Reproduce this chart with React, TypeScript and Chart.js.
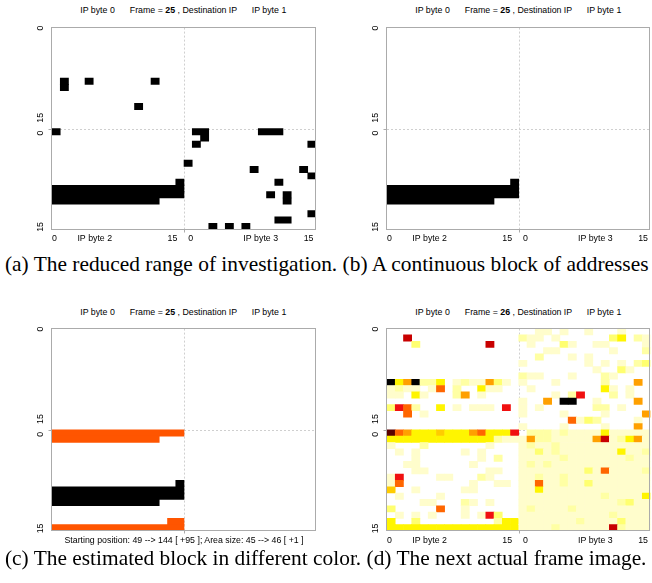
import React, { useEffect, useRef } from "react";
import { Chart, registerables } from "chart.js";
Chart.register(...registerables);

// ---------- DATA ----------
// runs: [row, firstCol, lastCol] inside a 16x16 quadrant (IP byte 0..3)
type Run = [number, number, number];

const aByte0: Run[] = [[8, 1, 1], [9, 1, 1], [8, 4, 4], [8, 12, 12], [12, 10, 10]];
const aByte1: Run[] = [];
const aByte2: Run[] = [[0, 0, 0], [8, 15, 15], [9, 0, 15], [10, 0, 15], [11, 0, 12]];
const aByte3: Run[] = [
  [0, 1, 2], [1, 2, 2], [0, 9, 11], [2, 1, 1], [2, 15, 15], [5, 0, 0], [6, 8, 8], [6, 14, 14],
  [7, 15, 15], [8, 11, 11], [10, 10, 10], [10, 12, 12], [11, 12, 12], [13, 15, 15], [14, 11, 12],
  [15, 3, 3], [15, 5, 5], [15, 7, 7],
];
const blockRuns: Run[] = [[8, 15, 15], [9, 0, 15], [10, 0, 15], [11, 0, 12]];
const estimateRuns: Run[] = [[0, 0, 15], [1, 0, 12], [14, 14, 15], [15, 0, 15]];

// next frame image, intensity level per cell (0 = none ... b = max)
const dByte0 = [
  "0000000000000000",
  "0090000000000000",
  "0003000000009000",
  "0000000000000000",
  "0000000000000000",
  "0000000000000000",
  "0000000000000000",
  "0000000000000000",
  "b46b224012116310",
  "1211017020041100",
  "1104100026010000",
  "0000000000000000",
  "3872004010111080",
  "0070100000000000",
  "0000000000000000",
  "0000000000000000",
];
const dByte1 = [
  "0011010010001000",
  "2110100000034021",
  "0100031001100001",
  "0001100000010002",
  "0020001010000000",
  "1000000010101023",
  "0000000001003100",
  "2110001000210000",
  "1000100000200060",
  "0100000000410100",
  "0000102800020100",
  "10060bb001000060",
  "1010000002201000",
  "1000010000100006",
  "0000007132000010",
  "1000010000100060",
];
const dByte2 = [
  "a764445444674448",
  "4444444444444211",
  "1000200000001000",
  "0101000001010000",
  "0001000000010200",
  "0011000000100000",
  "0001100000001100",
  "1800001100021000",
  "1700000000100110",
  "5001000001100000",
  "0100001000000000",
  "0000110002101000",
  "3000007001000000",
  "0101010001018300",
  "4003000000000244",
  "4444444444444444",
];
const dByte3 = [
  "0222121111411111",
  "1622111116912461",
  "1211211111111111",
  "1131211111114112",
  "1111121111111211",
  "1212111111111111",
  "1111111131711112",
  "1121121111111111",
  "1171121131111111",
  "1141111111111111",
  "1111111111211114",
  "1111111111112311",
  "1211112111111111",
  "1111111111121111",
  "1111111211113111",
  "1111211111192111",
];

const frameNumbers = [25, 25, 25, 26];
const xTickLabels = ["0", "IP byte 2", "15", "0", "IP byte 3", "15"];
const yTickLabels = ["0", "15", "0", "15"];
const statusText = "Starting position: 49 --> 144 [ +95 ]; Area size: 45 --> 46 [ +1 ]";
const captionTop = "(a) The reduced range of investigation. (b) A continuous block of addresses";
const captionBottom = "(c) The estimated block in different color. (d) The next actual frame image.";

// ---------- STYLE / LAYOUT ----------
const heatColors: Record<string, string> = {
  "1": "#fffdcc",
  "2": "#ffffa4",
  "3": "#ffff70",
  "4": "#fff500",
  "5": "#ffcc00",
  "6": "#ffa000",
  "7": "#ff6600",
  "8": "#f01010",
  "9": "#c80000",
  a: "#5a0000",
  b: "#000000",
};
const BLACK = "#000000";
const ORANGE = "#ff5500";
const SANS = "'Liberation Sans', Arial, Helvetica, sans-serif";
const SERIF = "'Liberation Serif', 'Times New Roman', serif";
const FS = 8.8;
// tick label anchor positions along axes (in cell units)
const xTickAt = [-0.2, 4.68, 14.1, 16.3, 24.8, 30.6];
const yTickAt = [-0.42, 13.8, 16.2, 31.1];
const QUAD: [number, number][] = [[0, 0], [0, 16], [16, 0], [16, 16]];

type Cell = { y: number; x: [number, number]; color: string };

function runsCells(quads: Run[][], color: string): Cell[] {
  const out: Cell[] = [];
  quads.forEach((runs, q) => {
    const [ro, co] = QUAD[q];
    runs.forEach(([r, c0, c1]) => out.push({ y: r + ro, x: [c0 + co - 0.5, c1 + co + 0.5], color }));
  });
  return out;
}
function heatCells(quads: string[][]): Cell[] {
  const out: Cell[] = [];
  quads.forEach((rows, q) => {
    const [ro, co] = QUAD[q];
    rows.forEach((row, r) => {
      row.split("").forEach((ch, c) => {
        if (ch !== "0") out.push({ y: r + ro, x: [c + co - 0.5, c + co + 0.5], color: heatColors[ch] });
      });
    });
  });
  return out;
}

const midlinePlugin = {
  id: "midlines",
  beforeDatasetsDraw(chart: any) {
    const { ctx, chartArea: a, scales } = chart;
    const mx = Math.round(scales.x.getPixelForValue(15.5)) + 0.5;
    const my = Math.round(scales.y.getPixelForValue(15.5)) + 0.5;
    ctx.save();
    ctx.strokeStyle = "#cfcfcf";
    ctx.lineWidth = 1;
    ctx.setLineDash([2, 2]);
    ctx.beginPath();
    ctx.moveTo(mx, a.top);
    ctx.lineTo(mx, a.bottom);
    ctx.moveTo(a.left, my);
    ctx.lineTo(a.right, my);
    ctx.stroke();
    ctx.restore();
  },
  afterDatasetsDraw(chart: any) {
    const { ctx, chartArea: a, scales } = chart;
    const mx = Math.round(scales.x.getPixelForValue(15.5)) + 0.5;
    const my = Math.round(scales.y.getPixelForValue(15.5)) + 0.5;
    const l = Math.round(a.left) - 0.5, t = Math.round(a.top) - 0.5;
    const r = Math.round(a.right) - 0.5, b = Math.round(a.bottom) - 0.5;
    ctx.save();
    ctx.strokeStyle = "#ababab";
    ctx.lineWidth = 1;
    ctx.strokeRect(l, t, r - l, b - t);
    ctx.beginPath();
    ctx.moveTo(mx, b);
    ctx.lineTo(mx, b + 3);
    ctx.moveTo(l, my);
    ctx.lineTo(l - 3, my);
    ctx.stroke();
    ctx.restore();
  },
};

type Geom = { left: number; top: number; w: number; h: number; padTop: number; padRight: number; yW: number; xH: number };

function Panel({ geom, cells, showX }: { geom: Geom; cells: Cell[]; showX: boolean }) {
  const ref = useRef<HTMLCanvasElement>(null);
  useEffect(() => {
    const chart = new Chart(ref.current as HTMLCanvasElement, {
      type: "bar",
      data: {
        datasets: [
          {
            data: cells as any,
            backgroundColor: (c: any) => (c.raw ? c.raw.color : BLACK),
            borderWidth: 0,
            barPercentage: 1,
            categoryPercentage: 1,
            inflateAmount: 0.3,
            grouped: false,
          } as any,
        ],
      },
      options: {
        animation: false,
        responsive: false,
        events: [],
        indexAxis: "y",
        layout: { padding: { left: 0, top: geom.padTop, right: geom.padRight, bottom: 0 } },
        plugins: { legend: { display: false }, tooltip: { enabled: false } },
        scales: {
          x: {
            type: "linear",
            min: -0.5,
            max: 31.5,
            offset: false,
            grid: { display: false, drawTicks: false, offset: false },
            border: { display: false },
            ticks: {
              display: showX,
              autoSkip: false,
              maxRotation: 0,
              minRotation: 0,
              padding: 4,
              color: "#000",
              font: { family: SANS, size: FS },
              callback: (_v: any, i: number) => xTickLabels[i],
            },
            afterBuildTicks: (s: any) => {
              s.ticks = xTickAt.map((value) => ({ value }));
            },
            afterFit: (s: any) => {
              s.height = geom.xH;
            },
          },
          y: {
            type: "linear",
            reverse: true,
            min: -0.5,
            max: 31.5,
            offset: false,
            grid: { display: false, drawTicks: false, offset: false },
            border: { display: false },
            ticks: {
              autoSkip: false,
              minRotation: 90,
              maxRotation: 90,
              crossAlign: "center",
              padding: 6.3,
              color: "#000",
              font: { family: SANS, size: FS },
              callback: (_v: any, i: number) => yTickLabels[i],
            },
            afterBuildTicks: (s: any) => {
              s.ticks = yTickAt.map((value) => ({ value }));
            },
            afterFit: (s: any) => {
              s.width = geom.yW;
            },
          },
        } as any,
      },
      plugins: [midlinePlugin],
    });
    return () => chart.destroy();
  }, []);
  return (
    <canvas
      ref={ref}
      width={geom.w}
      height={geom.h}
      style={{ position: "absolute", left: geom.left, top: geom.top, width: geom.w, height: geom.h }}
    />
  );
}

function PanelTitle({ L, T, frame }: { L: number; T: number; frame: number }) {
  const base: React.CSSProperties = {
    position: "absolute",
    top: T,
    fontFamily: SANS,
    fontSize: FS + "px",
    lineHeight: "10px",
    whiteSpace: "nowrap",
    transform: "translateX(-50%)",
    color: "#000",
  };
  return (
    <>
      <span style={{ ...base, left: L + 45.5 }}>IP byte 0</span>
      <span style={{ ...base, left: L + 131.5 }}>
        Frame = <b>{frame}</b> , Destination IP
      </span>
      <span style={{ ...base, left: L + 217 }}>IP byte 1</span>
    </>
  );
}

const geomA: Geom = { left: 20, top: 16, w: 310, h: 234, padTop: 6, padRight: 14, yW: 32, xH: 20.5 };
const geomB: Geom = { left: 355, top: 16, w: 297, h: 234, padTop: 6, padRight: 1, yW: 32, xH: 20.5 };
const geomC: Geom = { left: 20, top: 317, w: 310, h: 234, padTop: 6, padRight: 14, yW: 32, xH: 20 };
const geomD: Geom = { left: 355, top: 317, w: 297, h: 234, padTop: 6, padRight: 1, yW: 32, xH: 20 };

export default function App() {
  const cellsA = runsCells([aByte0, aByte1, aByte2, aByte3], BLACK);
  const cellsB = runsCells([[], [], blockRuns, []], BLACK);
  const cellsC = [...runsCells([[], [], estimateRuns, []], ORANGE), ...runsCells([[], [], blockRuns, []], BLACK)];
  const cellsD = heatCells([dByte0, dByte1, dByte2, dByte3]);
  const capStyle: React.CSSProperties = {
    position: "absolute",
    left: 5,
    fontFamily: SERIF,
    fontSize: "21.4px",
    lineHeight: "21.4px",
    whiteSpace: "nowrap",
    color: "#000",
  };
  return (
    <div style={{ position: "absolute", left: 0, top: 0, width: 652, height: 583, overflow: "hidden", background: "#fff" }}>
      <PanelTitle L={52} T={5} frame={frameNumbers[0]} />
      <PanelTitle L={387} T={5} frame={frameNumbers[1]} />
      <PanelTitle L={52} T={307} frame={frameNumbers[2]} />
      <PanelTitle L={387} T={307} frame={frameNumbers[3]} />
      <Panel geom={geomA} cells={cellsA} showX={true} />
      <Panel geom={geomB} cells={cellsB} showX={true} />
      <Panel geom={geomC} cells={cellsC} showX={false} />
      <Panel geom={geomD} cells={cellsD} showX={true} />
      <div
        style={{
          position: "absolute",
          left: 184,
          top: 535,
          transform: "translateX(-50%)",
          fontFamily: SANS,
          fontSize: FS + "px",
          lineHeight: "10px",
          whiteSpace: "nowrap",
        }}
      >
        {statusText}
      </div>
      <div style={{ ...capStyle, top: 254 }}>{captionTop}</div>
      <div style={{ ...capStyle, top: 548 }}>{captionBottom}</div>
    </div>
  );
}
